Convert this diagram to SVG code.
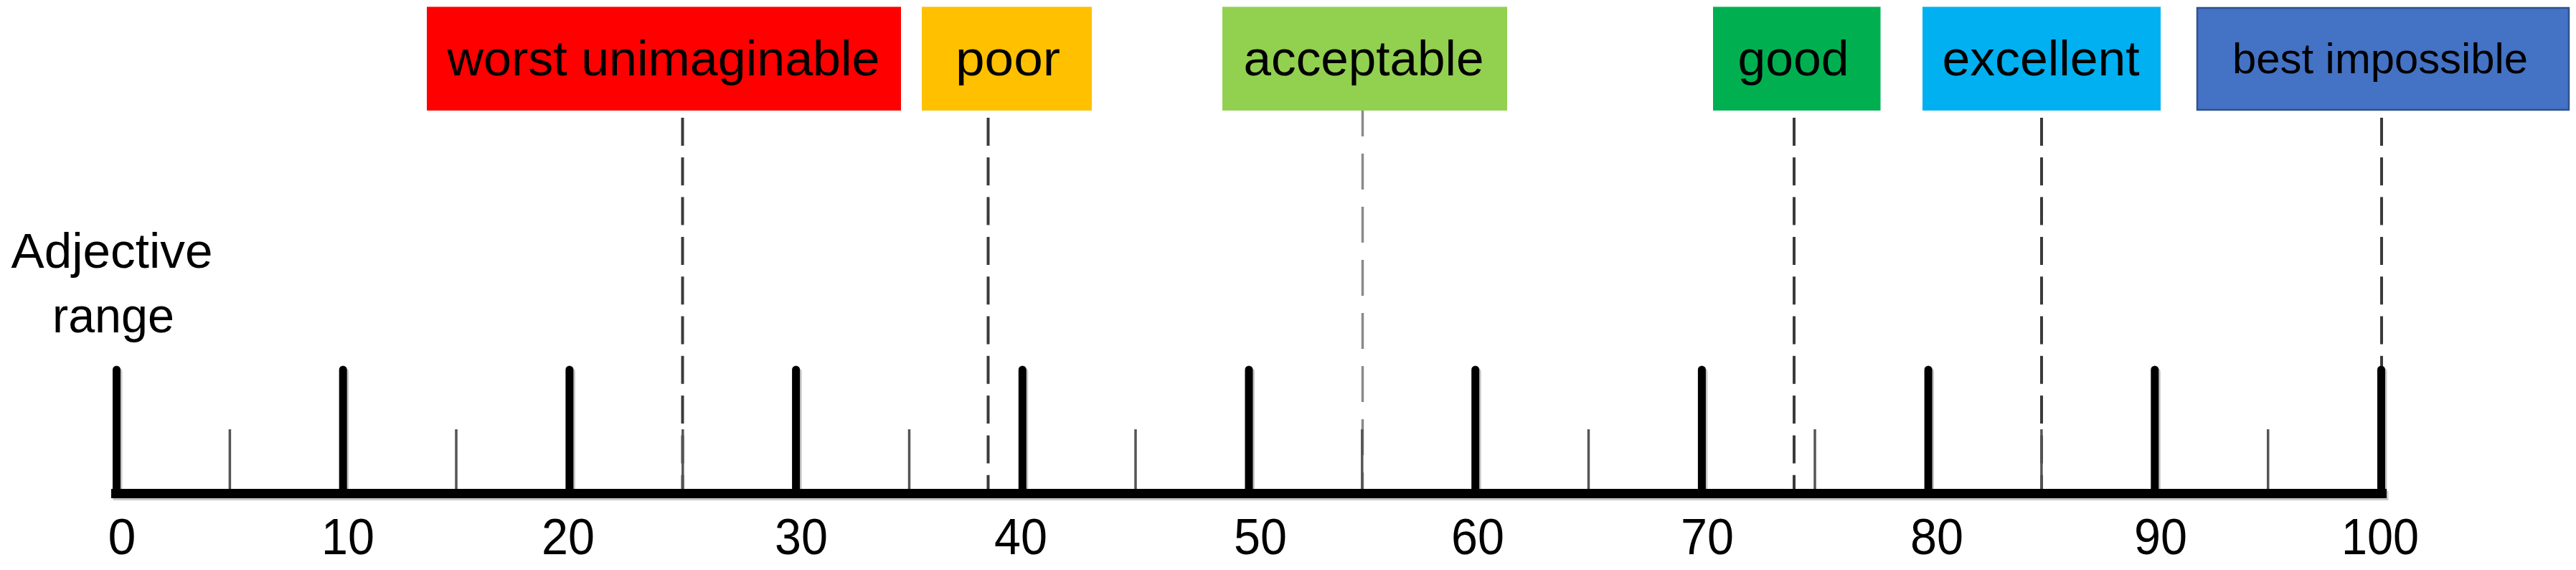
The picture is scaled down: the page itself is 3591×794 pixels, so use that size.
<svg xmlns="http://www.w3.org/2000/svg" width="3591" height="794" viewBox="0 0 3591 794">
<style>
  .lbl { font-family: "Liberation Sans", Arial, sans-serif; font-size: 69px; fill: #000; text-anchor: middle; }
  .num { font-family: "Liberation Sans", Arial, sans-serif; font-size: 70px; fill: #000; text-anchor: middle; }
  .side { font-family: "Liberation Sans", Arial, sans-serif; font-size: 68px; fill: #000; text-anchor: middle; }
  .dash { stroke: #3a3a3a; stroke-width: 4; stroke-dasharray: 39 16.3; fill: none; }
  .dash2 { stroke: #8a8a8a; stroke-width: 3.5; stroke-dasharray: 50 24; stroke-dashoffset: 14; fill: none; }
  .major { stroke: #000; stroke-width: 11; stroke-linecap: round; }
  .minor { stroke: #555; stroke-width: 3.5; }
</style>
<rect width="3591" height="794" fill="#fff"/>

<!-- side label -->
<g id="adjective-range">
  <text class="side" x="156" y="373" textLength="281" lengthAdjust="spacingAndGlyphs">Adjective</text>
  <text class="side" x="158" y="463" textLength="170" lengthAdjust="spacingAndGlyphs">range</text>
</g>

<!-- connectors (dashed markers) -->
<g id="connectors">
  <line class="dash" x1="951.5" y1="164" x2="951.5" y2="681"/>
  <line class="dash" x1="1377.5" y1="164" x2="1377.5" y2="681"/>
  <line class="dash2" x1="1899.5" y1="154" x2="1899.5" y2="681"/>
  <line class="dash" x1="2501" y1="164" x2="2501" y2="681"/>
  <line class="dash" x1="2846" y1="164" x2="2846" y2="681"/>
  <line class="dash" x1="3320" y1="164" x2="3320" y2="681"/>
</g>

<!-- scale axis -->
<g id="axis">
  <g transform="translate(2.5,3)" opacity="0.55">
    <rect x="155" y="681" width="3172" height="13" fill="#9a9a9a"/>
    <g stroke="#9a9a9a" stroke-width="11" stroke-linecap="round">
      <line x1="162.5" y1="515" x2="162.5" y2="687"/>
      <line x1="478.2" y1="515" x2="478.2" y2="687"/>
      <line x1="793.9" y1="515" x2="793.9" y2="687"/>
      <line x1="1109.6" y1="515" x2="1109.6" y2="687"/>
      <line x1="1425.3" y1="515" x2="1425.3" y2="687"/>
      <line x1="1741" y1="515" x2="1741" y2="687"/>
      <line x1="2056.7" y1="515" x2="2056.7" y2="687"/>
      <line x1="2372.4" y1="515" x2="2372.4" y2="687"/>
      <line x1="2688.1" y1="515" x2="2688.1" y2="687"/>
      <line x1="3003.8" y1="515" x2="3003.8" y2="687"/>
      <line x1="3319.5" y1="515" x2="3319.5" y2="687"/>
    </g>
  </g>
  <g>
    <line class="minor" x1="320.4" y1="598" x2="320.4" y2="684"/>
    <line class="minor" x1="636" y1="598" x2="636" y2="684"/>
    <line class="minor" x1="951.8" y1="598" x2="951.8" y2="684"/>
    <line class="minor" x1="1267.5" y1="598" x2="1267.5" y2="684"/>
    <line class="minor" x1="1583" y1="598" x2="1583" y2="684"/>
    <line class="minor" x1="1898.8" y1="598" x2="1898.8" y2="684"/>
    <line class="minor" x1="2214.5" y1="598" x2="2214.5" y2="684"/>
    <line class="minor" x1="2530" y1="598" x2="2530" y2="684"/>
    <line class="minor" x1="2845.9" y1="598" x2="2845.9" y2="684"/>
    <line class="minor" x1="3161.7" y1="598" x2="3161.7" y2="684"/>
  </g>
  <rect x="155" y="681" width="3172" height="13" fill="#000"/>
  <g>
    <line class="major" x1="162.5" y1="515" x2="162.5" y2="687"/>
    <line class="major" x1="478.2" y1="515" x2="478.2" y2="687"/>
    <line class="major" x1="793.9" y1="515" x2="793.9" y2="687"/>
    <line class="major" x1="1109.6" y1="515" x2="1109.6" y2="687"/>
    <line class="major" x1="1425.3" y1="515" x2="1425.3" y2="687"/>
    <line class="major" x1="1741" y1="515" x2="1741" y2="687"/>
    <line class="major" x1="2056.7" y1="515" x2="2056.7" y2="687"/>
    <line class="major" x1="2372.4" y1="515" x2="2372.4" y2="687"/>
    <line class="major" x1="2688.1" y1="515" x2="2688.1" y2="687"/>
    <line class="major" x1="3003.8" y1="515" x2="3003.8" y2="687"/>
    <line class="major" x1="3319.5" y1="515" x2="3319.5" y2="687"/>
  </g>
  <g id="tick-labels">
    <text class="num" x="170" y="772">0</text>
    <text class="num" x="485" y="772" textLength="74" lengthAdjust="spacingAndGlyphs">10</text>
    <text class="num" x="792" y="772" textLength="74" lengthAdjust="spacingAndGlyphs">20</text>
    <text class="num" x="1117" y="772" textLength="74" lengthAdjust="spacingAndGlyphs">30</text>
    <text class="num" x="1423" y="772" textLength="74" lengthAdjust="spacingAndGlyphs">40</text>
    <text class="num" x="1757" y="772" textLength="74" lengthAdjust="spacingAndGlyphs">50</text>
    <text class="num" x="2060" y="772" textLength="74" lengthAdjust="spacingAndGlyphs">60</text>
    <text class="num" x="2380" y="772" textLength="74" lengthAdjust="spacingAndGlyphs">70</text>
    <text class="num" x="2700" y="772" textLength="74" lengthAdjust="spacingAndGlyphs">80</text>
    <text class="num" x="3012" y="772" textLength="74" lengthAdjust="spacingAndGlyphs">90</text>
    <text class="num" x="3318" y="772" textLength="108" lengthAdjust="spacingAndGlyphs">100</text>
  </g>
</g>

<!-- adjective boxes -->
<g id="worst-unimaginable">
  <rect x="595" y="9.5" width="661" height="144.5" fill="#FF0000"/>
  <text class="lbl" x="925" y="105" textLength="603" lengthAdjust="spacingAndGlyphs">worst unimaginable</text>
</g>
<g id="poor">
  <rect x="1285" y="9.5" width="237" height="144.5" fill="#FFC000"/>
  <text class="lbl" x="1405" y="105" textLength="146" lengthAdjust="spacingAndGlyphs">poor</text>
</g>
<g id="acceptable">
  <rect x="1704" y="9.5" width="397" height="144.5" fill="#92D050"/>
  <text class="lbl" x="1901" y="105" textLength="335" lengthAdjust="spacingAndGlyphs">acceptable</text>
</g>
<g id="good">
  <rect x="2388" y="9.5" width="233.5" height="144.5" fill="#00B050"/>
  <text class="lbl" x="2500" y="105" textLength="155" lengthAdjust="spacingAndGlyphs">good</text>
</g>
<g id="excellent">
  <rect x="2680" y="9.5" width="332" height="144.5" fill="#00B0F0"/>
  <text class="lbl" x="2845" y="105" textLength="275" lengthAdjust="spacingAndGlyphs">excellent</text>
</g>
<g id="best-impossible">
  <rect x="3063" y="11" width="518" height="142" fill="#4472C4" stroke="#2F528F" stroke-width="2.5"/>
  <text class="lbl" x="3318" y="102" style="font-size:60px" textLength="412" lengthAdjust="spacingAndGlyphs">best impossible</text>
</g>
</svg>
